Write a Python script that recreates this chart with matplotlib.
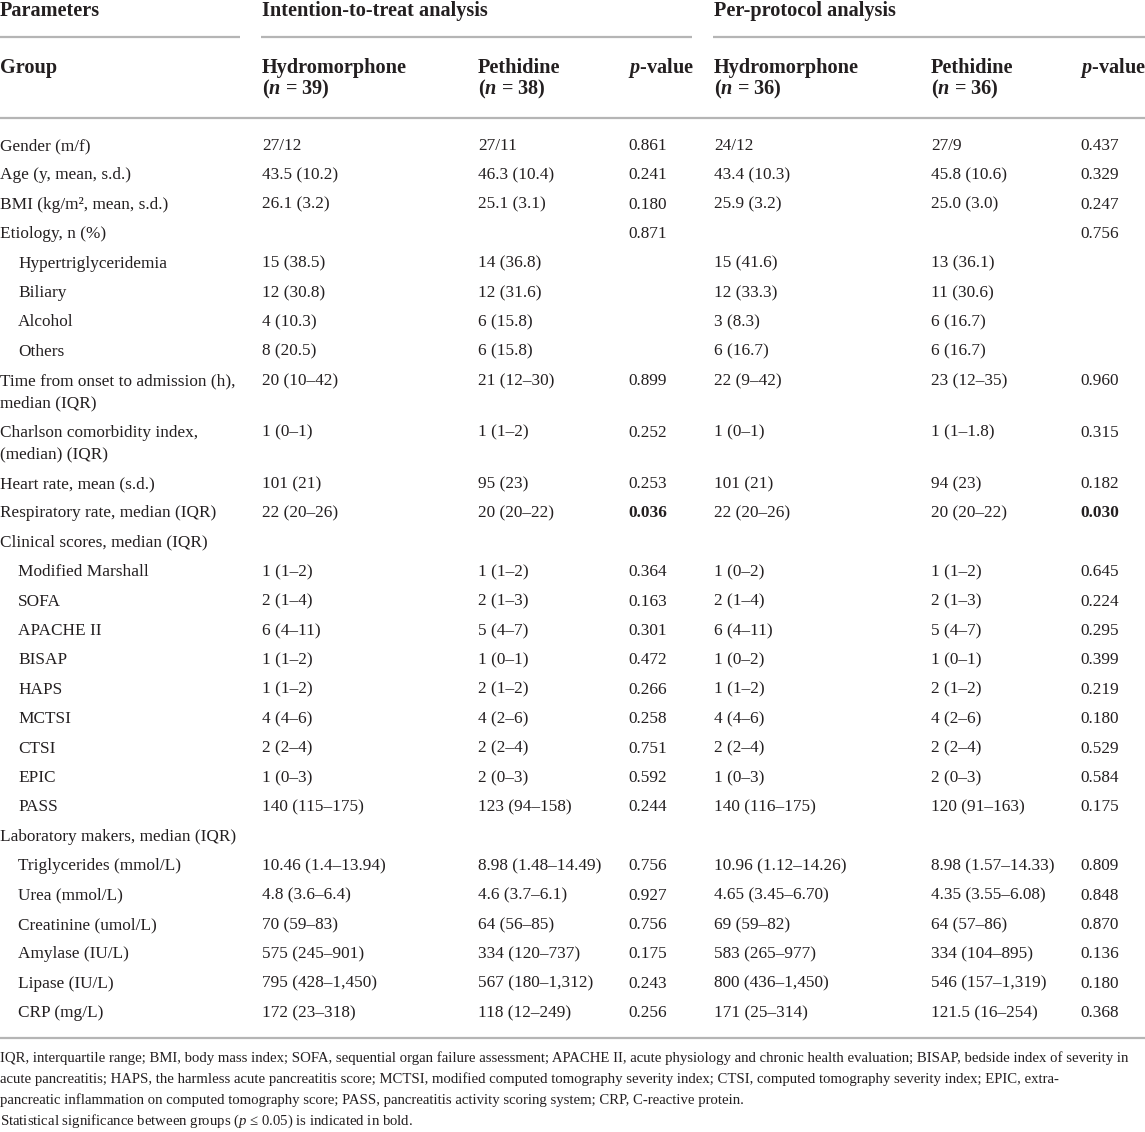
import matplotlib
matplotlib.use("Agg")
import matplotlib.pyplot as plt

plt.rcParams['font.family'] = ['Liberation Serif', 'DejaVu Serif']
plt.rcParams['mathtext.fontset'] = 'custom'
plt.rcParams['mathtext.rm'] = 'Liberation Serif'
plt.rcParams['mathtext.it'] = 'Liberation Serif:italic'
plt.rcParams['mathtext.bf'] = 'Liberation Serif:bold'
plt.rcParams['mathtext.bfit'] = 'Liberation Serif:italic:bold'

# table content
params = ["Gender (m/f)", "Age (y, mean, s.d.)", "BMI (kg/m\u00b2, mean, s.d.)", "Etiology, n (%)",
          "Hypertriglyceridemia", "Biliary", "Alcohol", "Others",
          "Time from onset to admission (h),\nmedian (IQR)",
          "Charlson comorbidity index,\n(median) (IQR)",
          "Heart rate, mean (s.d.)", "Respiratory rate, median (IQR)",
          "Clinical scores, median (IQR)",
          "Modified Marshall", "SOFA", "APACHE II", "BISAP", "HAPS", "MCTSI", "CTSI", "EPIC", "PASS",
          "Laboratory makers, median (IQR)",
          "Triglycerides (mmol/L)", "Urea (mmol/L)", "Creatinine (umol/L)", "Amylase (IU/L)",
          "Lipase (IU/L)", "CRP (mg/L)"]
indented = [0, 0, 0, 0, 1, 1, 1, 1, 0, 0, 0, 0, 0, 1, 1, 1, 1, 1, 1, 1, 1, 1, 0, 1, 1, 1, 1, 1, 1]

itt_hydro = ["27/12", "43.5 (10.2)", "26.1 (3.2)", "", "15 (38.5)", "12 (30.8)", "4 (10.3)", "8 (20.5)",
             "20 (10\u201342)", "1 (0\u20131)", "101 (21)", "22 (20\u201326)", "",
             "1 (1\u20132)", "2 (1\u20134)", "6 (4\u201311)", "1 (1\u20132)", "1 (1\u20132)", "4 (4\u20136)",
             "2 (2\u20134)", "1 (0\u20133)", "140 (115\u2013175)", "",
             "10.46 (1.4\u201313.94)", "4.8 (3.6\u20136.4)", "70 (59\u201383)", "575 (245\u2013901)",
             "795 (428\u20131,450)", "172 (23\u2013318)"]
itt_peth = ["27/11", "46.3 (10.4)", "25.1 (3.1)", "", "14 (36.8)", "12 (31.6)", "6 (15.8)", "6 (15.8)",
            "21 (12\u201330)", "1 (1\u20132)", "95 (23)", "20 (20\u201322)", "",
            "1 (1\u20132)", "2 (1\u20133)", "5 (4\u20137)", "1 (0\u20131)", "2 (1\u20132)", "4 (2\u20136)",
            "2 (2\u20134)", "2 (0\u20133)", "123 (94\u2013158)", "",
            "8.98 (1.48\u201314.49)", "4.6 (3.7\u20136.1)", "64 (56\u201385)", "334 (120\u2013737)",
            "567 (180\u20131,312)", "118 (12\u2013249)"]
itt_p = ["0.861", "0.241", "0.180", "0.871", "", "", "", "",
         "0.899", "0.252", "0.253", "0.036", "",
         "0.364", "0.163", "0.301", "0.472", "0.266", "0.258", "0.751", "0.592", "0.244", "",
         "0.756", "0.927", "0.756", "0.175", "0.243", "0.256"]
pp_hydro = ["24/12", "43.4 (10.3)", "25.9 (3.2)", "", "15 (41.6)", "12 (33.3)", "3 (8.3)", "6 (16.7)",
            "22 (9\u201342)", "1 (0\u20131)", "101 (21)", "22 (20\u201326)", "",
            "1 (0\u20132)", "2 (1\u20134)", "6 (4\u201311)", "1 (0\u20132)", "1 (1\u20132)", "4 (4\u20136)",
            "2 (2\u20134)", "1 (0\u20133)", "140 (116\u2013175)", "",
            "10.96 (1.12\u201314.26)", "4.65 (3.45\u20136.70)", "69 (59\u201382)", "583 (265\u2013977)",
            "800 (436\u20131,450)", "171 (25\u2013314)"]
pp_peth = ["27/9", "45.8 (10.6)", "25.0 (3.0)", "", "13 (36.1)", "11 (30.6)", "6 (16.7)", "6 (16.7)",
           "23 (12\u201335)", "1 (1\u20131.8)", "94 (23)", "20 (20\u201322)", "",
           "1 (1\u20132)", "2 (1\u20133)", "5 (4\u20137)", "1 (0\u20131)", "2 (1\u20132)", "4 (2\u20136)",
           "2 (2\u20134)", "2 (0\u20133)", "120 (91\u2013163)", "",
           "8.98 (1.57\u201314.33)", "4.35 (3.55\u20136.08)", "64 (57\u201386)", "334 (104\u2013895)",
           "546 (157\u20131,319)", "121.5 (16\u2013254)"]
pp_p = ["0.437", "0.329", "0.247", "0.756", "", "", "", "",
        "0.960", "0.315", "0.182", "0.030", "",
        "0.645", "0.224", "0.295", "0.399", "0.219", "0.180", "0.529", "0.584", "0.175", "",
        "0.809", "0.848", "0.870", "0.136", "0.180", "0.368"]
bold_rows = [11]

footnotes = [
    "IQR, interquartile range; BMI, body mass index; SOFA, sequential organ failure assessment; "
    "APACHE II, acute physiology and chronic health evaluation; BISAP, bedside index of severity in",
    "acute pancreatitis; HAPS, the harmless acute pancreatitis score; MCTSI, modified computed tomography "
    "severity index; CTSI, computed tomography severity index; EPIC, extra-",
    "pancreatic inflammation on computed tomography score; PASS, pancreatitis activity scoring system; "
    "CRP, C-reactive protein.",
    "Statistical significance between groups ($\\mathit{p}$ \u2264 0.05) is indicated in bold.",
]

TXT = "#231f20"
RULE = "#b5b5b5"
FS = 12.4
HFS = 14.6

fig = plt.figure(figsize=(11.45, 11.32), dpi=100)
ax = fig.add_axes([0, 0, 1, 1])
ax.set_xlim(0, 1145)
ax.set_ylim(1132, 0)
ax.axis("off")

col_x = [0, 262, 478, 628, 714, 931, 1080]

# header
ax.text(col_x[0], 11, "Parameters", fontsize=HFS, fontweight="bold", color=TXT, va="center")
ax.text(col_x[1], 11, "Intention-to-treat analysis", fontsize=HFS, fontweight="bold", color=TXT, va="center")
ax.text(col_x[4], 11, "Per-protocol analysis", fontsize=HFS, fontweight="bold", color=TXT, va="center")
for x0, x1 in [(0, 240), (261, 692), (713, 1145)]:
    ax.plot([x0, x1], [37, 37], color=RULE, lw=1.6, solid_capstyle="butt")

ax.text(col_x[0], 68, "Group", fontsize=HFS, fontweight="bold", color=TXT, va="center")
heads = [("Hydromorphone", "39"), ("Pethidine", "38"), None, ("Hydromorphone", "36"), ("Pethidine", "36"), None]
for i, h in enumerate(heads):
    x = col_x[i + 1]
    if h is None:
        ax.text(x, 68, "$\\mathbfit{p}$-value", fontsize=HFS, fontweight="bold", color=TXT, va="center")
    else:
        ax.text(x, 68, h[0], fontsize=HFS, fontweight="bold", color=TXT, va="center")
        ax.text(x, 89, "($\\mathbfit{n}$ = " + h[1] + ")", fontsize=HFS, fontweight="bold", color=TXT, va="center")
ax.plot([0, 1145], [118, 118], color=RULE, lw=1.6, solid_capstyle="butt")

# body rows
y = 146
pitch = 29.4
cols = [itt_hydro, itt_peth, itt_p, pp_hydro, pp_peth, pp_p]
for r, name in enumerate(params):
    lines = name.split("\n")
    px = col_x[0] + (18 if indented[r] else 0)
    for k, ln in enumerate(lines):
        ax.text(px, y + k * 22, ln, fontsize=FS, color=TXT, va="center")
    for c, vals in enumerate(cols):
        w = "bold" if (r in bold_rows and c in (2, 5)) else "normal"
        ax.text(col_x[c + 1], y, vals[r], fontsize=FS, color=TXT, va="center", fontweight=w)
    y += pitch + (22 if len(lines) > 1 else 0)

ax.plot([0, 1145], [1038, 1038], color=RULE, lw=1.6, solid_capstyle="butt")

for k, ft in enumerate(footnotes):
    ax.text(0, 1058 + k * 21, ft, fontsize=10.6, color=TXT, va="center")

fig.savefig("out.png", dpi=100)
